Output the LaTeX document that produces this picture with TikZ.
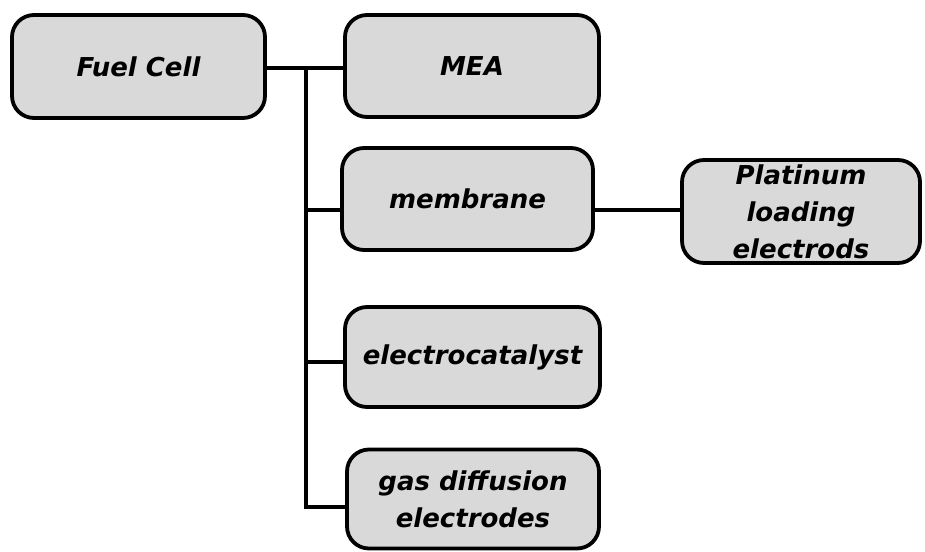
\documentclass[tikz,border=0pt]{standalone}
\usepackage{fontspec}
\setmainfont{DejaVu Sans}
\begin{document}
\begin{tikzpicture}[x=1pt,y=1pt,
  box/.style={draw=black, line width=3.8pt, fill=boxgray, rounded corners=22pt,
    inner sep=0pt, align=center, font=\fontsize{26}{37}\selectfont\bfseries\itshape},
  link/.style={draw=black, line width=3.5pt}]
\definecolor{boxgray}{HTML}{D9D9D9}
\useasboundingbox (0,0) rectangle (925,-551);
\node[box, minimum width=253pt, minimum height=103pt] (fuel) at (138.5,-66.5) {Fuel Cell};
\node[box, minimum width=254pt, minimum height=102pt] (mea) at (472,-66) {MEA};
\node[box, minimum width=251pt, minimum height=102pt] (membrane) at (467.5,-199) {membrane};
\node[box, minimum width=238pt, minimum height=103pt] (platinum) at (801,-211.5) {Platinum\\loading\\electrods};
\node[box, minimum width=255pt, minimum height=100pt] (electro) at (472.5,-357) {electrocatalyst};
\node[box, minimum width=252pt, minimum height=99pt] (gas) at (473,-499) {gas diffusion\\electrodes};
\coordinate (j) at (306,-68);
\coordinate (jm) at (306,-210);
\coordinate (je) at (306,-362);
\coordinate (jg) at (306,-507);
\draw[link] (fuel.east |- j) -- (mea.west |- j);
\draw[link] (j) -- (jg) -- (gas.west |- jg);
\draw[link] (jm) -- (membrane.west |- jm);
\draw[link] (je) -- (electro.west |- je);
\draw[link] (membrane.east |- jm) -- (platinum.west |- jm);
\end{tikzpicture}
\end{document}
